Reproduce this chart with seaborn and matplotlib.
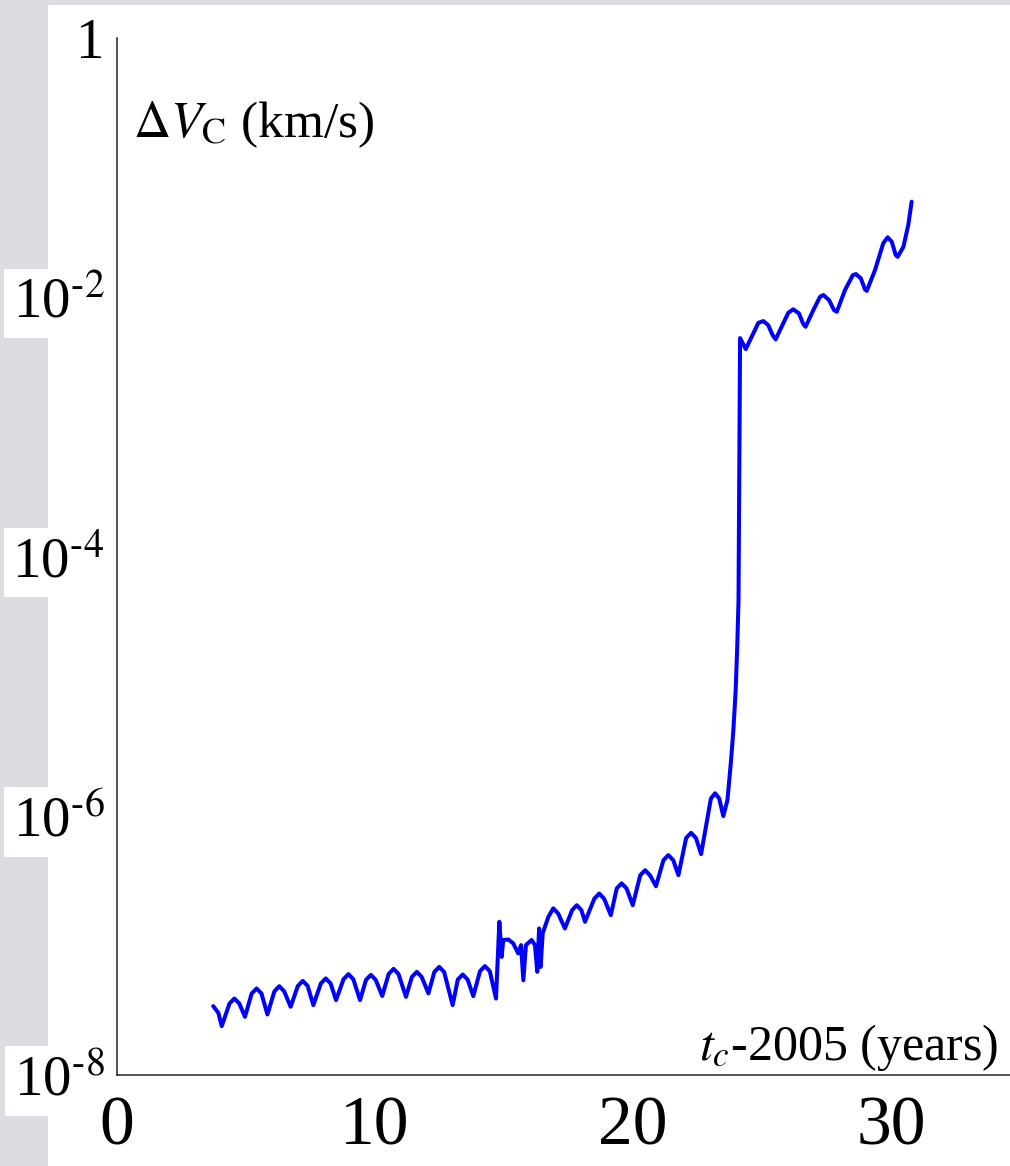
import numpy as np
import matplotlib
matplotlib.use("Agg")
import matplotlib.pyplot as plt
import matplotlib.ticker as mtick
from matplotlib.patches import Rectangle
import seaborn as sns

# t_c - 2005 (years) and Delta V_C (km/s)
t_years = [
    3.73, 3.93, 4.06, 4.36, 4.55, 4.74, 4.96, 5.22, 5.41, 5.60,
    5.83, 6.10, 6.29, 6.48, 6.73, 7.01, 7.20, 7.39, 7.61, 7.90,
    8.09, 8.28, 8.49, 8.78, 8.97, 9.16, 9.42, 9.65, 9.84, 10.03,
    10.28, 10.53, 10.72, 10.91, 11.20, 11.43, 11.62, 11.81, 12.07, 12.30,
    12.49, 12.68, 13.01, 13.21, 13.40, 13.59, 13.81, 14.07, 14.26, 14.45,
    14.69, 14.82, 14.91, 14.97, 15.17, 15.36, 15.55, 15.66, 15.75, 15.85,
    16.07, 16.20, 16.29, 16.36, 16.42, 16.50, 16.72, 16.91, 17.10, 17.36,
    17.64, 17.82, 18.00, 18.14, 18.50, 18.69, 18.88, 19.14, 19.37, 19.56,
    19.75, 19.99, 20.28, 20.47, 20.66, 20.89, 21.18, 21.37, 21.56, 21.76,
    22.06, 22.25, 22.44, 22.64, 23.02, 23.18, 23.34, 23.50, 23.66, 23.79,
    23.89, 23.98, 24.04, 24.09, 24.15, 24.37, 24.60, 24.86, 25.05, 25.24,
    25.41, 25.53, 25.76, 26.02, 26.21, 26.43, 26.60, 26.69, 26.99, 27.25,
    27.38, 27.60, 27.79, 27.90, 28.22, 28.52, 28.64, 28.83, 28.99, 29.06,
    29.38, 29.70, 29.87, 30.03, 30.18, 30.26, 30.48, 30.67, 30.80,
]
delta_v = [
    3.40e-8, 3.01e-8, 2.38e-8, 3.56e-8, 3.89e-8, 3.56e-8, 2.81e-8, 4.25e-8, 4.65e-8, 4.25e-8,
    2.93e-8, 4.42e-8, 4.84e-8, 4.42e-8, 3.36e-8, 4.86e-8, 5.32e-8, 4.86e-8, 3.46e-8, 5.08e-8,
    5.56e-8, 5.08e-8, 3.78e-8, 5.48e-8, 6.00e-8, 5.48e-8, 3.78e-8, 5.41e-8, 5.92e-8, 5.41e-8,
    4.07e-8, 6.02e-8, 6.59e-8, 6.02e-8, 4.01e-8, 5.71e-8, 6.25e-8, 5.71e-8, 4.26e-8, 6.23e-8,
    6.82e-8, 6.23e-8, 3.46e-8, 5.45e-8, 5.96e-8, 5.45e-8, 4.06e-8, 6.32e-8, 6.92e-8, 6.32e-8,
    3.89e-8, 1.52e-7, 8.15e-8, 1.10e-7, 1.11e-7, 1.035e-7, 8.67e-8, 1.005e-7, 5.38e-8, 1.005e-7,
    1.10e-7, 1.005e-7, 6.25e-8, 1.35e-7, 6.82e-8, 1.24e-7, 1.66e-7, 1.93e-7, 1.76e-7, 1.35e-7,
    1.87e-7, 2.04e-7, 1.87e-7, 1.52e-7, 2.29e-7, 2.51e-7, 2.29e-7, 1.71e-7, 2.75e-7, 3.01e-7,
    2.75e-7, 2.04e-7, 3.47e-7, 3.80e-7, 3.47e-7, 2.86e-7, 4.54e-7, 4.97e-7, 4.54e-7, 3.48e-7,
    6.74e-7, 7.38e-7, 6.74e-7, 5.06e-7, 1.36e-6, 1.49e-6, 1.36e-6, 9.93e-7, 1.32e-6, 2.53e-6,
    4.57e-6, 9.31e-6, 2.01e-5, 4.61e-5, 4.84e-3, 3.98e-3, 4.95e-3, 6.35e-3, 6.55e-3, 6.10e-3,
    5.11e-3, 4.73e-3, 5.92e-3, 7.59e-3, 8.07e-3, 7.52e-3, 6.21e-3, 5.92e-3, 7.96e-3, 1.009e-2,
    1.04e-2, 9.51e-3, 7.96e-3, 7.73e-3, 1.14e-2, 1.48e-2, 1.51e-2, 1.40e-2, 1.15e-2, 1.12e-2,
    1.62e-2, 2.61e-2, 2.90e-2, 2.68e-2, 2.12e-2, 2.05e-2, 2.45e-2, 3.61e-2, 5.46e-2,
]

x_ticks = [0, 10, 20, 30]
y_ticks = [1e-8, 1e-6, 1e-4, 1e-2, 1]
y_tick_labels = [r"10$^{\text{-8}}$", r"10$^{\text{-6}}$", r"10$^{\text{-4}}$",
                 r"10$^{\text{-2}}$", "1"]

sns.set_style("white")
plt.rcParams["font.family"] = ["Liberation Serif", "DejaVu Serif"]
plt.rcParams["mathtext.fontset"] = "stix"
plt.rcParams["text.color"] = "black"

fig = plt.figure(figsize=(10.1, 11.66), dpi=100, facecolor="#dcdde3")
# white panel over the grey backdrop
fig.patches.append(Rectangle((48 / 1010, 0), 1 - 48 / 1010, 1 - 5 / 1166,
                             transform=fig.transFigure, facecolor="white",
                             edgecolor="none", zorder=-5))

ax = fig.add_axes([117 / 1010, 91 / 1166, 893 / 1010, 1037 / 1166])
ax.set_facecolor("none")

sns.lineplot(x=t_years, y=delta_v, sort=False, estimator=None,
             color="#0000ff", linewidth=2.9, ax=ax)

ax.set_yscale("log")
ax.set_ylim(1e-8, 1)
ax.set_xlim(0, 893 / 25.8)
ax.yaxis.set_minor_locator(mtick.NullLocator())
ax.set_yticks(y_ticks)
ax.set_yticklabels(y_tick_labels)
ax.set_xticks(x_ticks)
ax.set_xticklabels([str(v) for v in x_ticks])

for side in ["top", "right"]:
    ax.spines[side].set_visible(False)
for side in ["left", "bottom"]:
    ax.spines[side].set_color("#222222")
    ax.spines[side].set_linewidth(1.1)

ax.tick_params(axis="y", direction="out", length=9, width=1.0,
               color="#222222", labelcolor="black", pad=0, labelsize=41)
ax.tick_params(axis="x", direction="out", length=10, width=1.0,
               color="#222222", labelcolor="black", pad=5, labelsize=50)
for lbl in ax.get_yticklabels():
    lbl.set_bbox(dict(facecolor="white", edgecolor="none", pad=6))
# x tick labels sit above the white boxes of the y tick labels
ax.yaxis.set_zorder(2.4)
ax.xaxis.set_zorder(2.6)

ax.set_xlabel("")
ax.set_ylabel("")
fig.text(133 / 1010, 1 - 137 / 1166, r"$\Delta V_{\mathrm{C}}$ (km/s)",
         fontsize=37, ha="left", va="baseline", color="black")
fig.text(998 / 1010, 1 - 1060 / 1166, r"$t_c$-2005 (years)",
         fontsize=36, ha="right", va="baseline", color="black")

fig.savefig("out.png", dpi=100, facecolor=fig.get_facecolor())
